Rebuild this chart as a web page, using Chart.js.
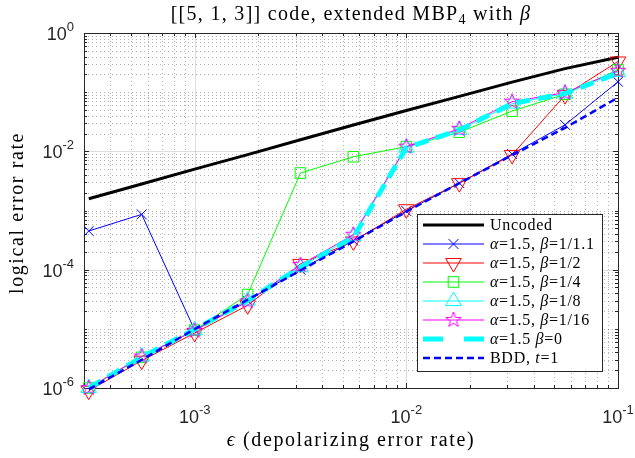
<!DOCTYPE html>
<html>
<head>
<meta charset="utf-8">
<script src="https://cdn.jsdelivr.net/npm/chart.js@4.4.0/dist/chart.umd.min.js"></script>
<style>
  html, body { margin: 0; padding: 0; background: #fff; }
</style>
</head>
<body>
<canvas id="miGrafico" width="635" height="458"></canvas>
<script>
// datos
let epsilon = [3.16e-4, 5.62e-4, 1e-3, 1.78e-3, 3.16e-3, 5.62e-3, 1e-2, 1.78e-2, 3.16e-2, 5.62e-2, 1e-1];
let uncoded = [1.58e-3, 2.8e-3, 5.0e-3, 8.8e-3, 0.0157, 0.0278, 0.049, 0.085, 0.148, 0.25, 0.39];
let beta11 = [4.5e-4, 8.6e-4, 9.5e-6, 3.0e-5, 1.0e-4, 3.1e-4, 9.8e-4, 2.9e-3, 9.0e-3, 0.028, 0.15];
let beta2 = [9e-7, 2.9e-6, 8.5e-6, 2.5e-5, 1.25e-4, 3.0e-4, 1.05e-3, 2.9e-3, 8.7e-3, 0.089, 0.33];
let beta4 = [1.0e-6, 3.3e-6, 9.5e-6, 3.8e-5, 4.3e-3, 8.1e-3, 0.012, 0.021, 0.048, 0.092, 0.24];
let beta8 = [1.0e-6, 3.4e-6, 9.5e-6, 3.0e-5, 1.1e-4, 3.7e-4, 0.0115, 0.023, 0.064, 0.095, 0.22];
let beta16 = [1.0e-6, 3.4e-6, 9.3e-6, 2.9e-5, 1.2e-4, 3.9e-4, 0.012, 0.024, 0.069, 0.098, 0.23];
let beta0 = [1.0e-6, 3.3e-6, 9.8e-6, 3.0e-5, 1.1e-4, 3.5e-4, 0.0115, 0.023, 0.064, 0.095, 0.21];
let bdd = [9.5e-7, 3.0e-6, 9.9e-6, 3.1e-5, 9.7e-5, 3.0e-4, 9.6e-4, 2.9e-3, 8.6e-3, 0.025, 0.081];

let xMin = 3e-4, xMax = 0.1;
let yMin = 1e-6, yMax = 1;
let xDecadasEtiqueta = [-3, -2, -1];
let yDecadasEtiqueta = [-6, -4, -2, 0];

let serif = '"Liberation Serif", serif';
let sans = '"Liberation Sans", Arial, sans-serif';

let puntos = (valores) => valores.map((v, i) => ({x: epsilon[i], y: v}));

// estrella de 5 puntas (pentagram de matlab)
let estrella = document.createElement('canvas');
estrella.width = 20;
estrella.height = 20;
let ce = estrella.getContext('2d');
ce.beginPath();
for (let i = 0; i < 10; i++) {
    let r = i % 2 == 0 ? 8 : 3.3;
    let a = -Math.PI / 2 + i * Math.PI / 5;
    ce.lineTo(10 + r * Math.cos(a), 10 + r * Math.sin(a));
}
ce.closePath();
ce.strokeStyle = '#ff00ff';
ce.lineWidth = 1;
ce.stroke();

let series = [
    {label: 'Uncoded', data: uncoded, color: '#000000', width: 3, marker: false, dash: [], order: 8},
    {label: 'b11', data: beta11, color: '#0000ff', width: 1, marker: 'crossRot', radius: 7, order: 7},
    {label: 'b2', data: beta2, color: '#ff0000', width: 1, marker: 'triangle', radius: 9, rot: 180, order: 6},
    {label: 'b4', data: beta4, color: '#00ff00', width: 1, marker: 'rect', radius: 7.5, order: 5},
    {label: 'b8', data: beta8, color: '#00ffff', width: 1, marker: 'triangle', radius: 9, order: 4},
    {label: 'b16', data: beta16, color: '#ff00ff', width: 1, marker: estrella, radius: 8, order: 3},
    {label: 'b0', data: beta0, color: '#00ffff', width: 5, marker: false, dash: [14, 8], order: 2},
    {label: 'BDD', data: bdd, color: '#0000ff', width: 2.5, marker: false, dash: [7, 4], order: 1}
];

let N = 'normal ', I = 'italic ';
let leyenda = [
    [['Uncoded', N]],
    [['α', I], ['=1.5, ', N], ['β', I], ['=1/1.1', N]],
    [['α', I], ['=1.5, ', N], ['β', I], ['=1/2', N]],
    [['α', I], ['=1.5, ', N], ['β', I], ['=1/4', N]],
    [['α', I], ['=1.5, ', N], ['β', I], ['=1/8', N]],
    [['α', I], ['=1.5, ', N], ['β', I], ['=1/16', N]],
    [['α', I], ['=1.5 ', N], ['β', I], ['=0', N]],
    [['BDD, ', N], ['t', I], ['=1', N]]
];

// dibuja texto con partes en distinta fuente
let dibujarTexto = (ctx, partes, x, y, align, size, espacio) => {
    ctx.textAlign = 'left';
    ctx.letterSpacing = (espacio || 0) + 'px';
    let total = 0;
    partes.forEach(p => {
        ctx.font = p[1] + (p[2] || size) + 'px ' + serif;
        total += ctx.measureText(p[0]).width;
    });
    let cx = align == 'center' ? x - total / 2 : (align == 'right' ? x - total : x);
    partes.forEach(p => {
        ctx.font = p[1] + (p[2] || size) + 'px ' + serif;
        ctx.fillText(p[0], cx, y + (p[3] || 0));
        cx += ctx.measureText(p[0]).width;
    });
    ctx.letterSpacing = '0px';
};

let potencia = (ctx, exp, x, y, align) => {
    ctx.textAlign = 'left';
    ctx.font = '18px ' + sans;
    let wb = ctx.measureText('10').width;
    ctx.font = '13px ' + sans;
    let we = ctx.measureText(String(exp)).width;
    let x0 = align == 'center' ? x - (wb + we) / 2 : x - wb - we;
    ctx.font = '18px ' + sans;
    ctx.fillText('10', x0, y);
    ctx.font = '13px ' + sans;
    ctx.fillText(String(exp), x0 + wb, y - 9);
};

let dibujarMarcador = (ctx, s, x, y) => {
    if (!s.marker) return;
    ctx.save();
    ctx.strokeStyle = s.color;
    ctx.lineWidth = 1;
    ctx.setLineDash([]);
    let r = s.radius;
    ctx.beginPath();
    if (s.marker === 'crossRot') {
        let d = r * Math.SQRT1_2;
        ctx.moveTo(x - d, y - d); ctx.lineTo(x + d, y + d);
        ctx.moveTo(x - d, y + d); ctx.lineTo(x + d, y - d);
    } else if (s.marker === 'triangle') {
        let sg = s.rot ? -1 : 1;
        ctx.moveTo(x, y - sg * r);
        ctx.lineTo(x + r * 0.866, y + sg * r / 2);
        ctx.lineTo(x - r * 0.866, y + sg * r / 2);
        ctx.closePath();
    } else if (s.marker === 'rect') {
        let d = r * Math.SQRT1_2;
        ctx.rect(x - d, y - d, 2 * d, 2 * d);
    } else {
        ctx.drawImage(s.marker, x - 10, y - 10);
    }
    ctx.stroke();
    ctx.restore();
};

// marcas 1..9 por decada; mayores solo en las decadas etiquetadas
let decadas = (min, max, etiquetas) => {
    let lista = [];
    for (let e = Math.floor(Math.log10(min)); e <= Math.ceil(Math.log10(max)); e++) {
        for (let m = 1; m <= 9; m++) {
            let v = m * Math.pow(10, e);
            if (v >= min * 0.999 && v <= max * 1.001) lista.push({v: v, mayor: m == 1 && etiquetas.includes(e), e: e});
        }
    }
    return lista;
};

let marco = {
    id: 'marco',
    beforeDatasetsDraw(chart) {
        let ctx = chart.ctx, a = chart.chartArea;
        let sx = chart.scales.x, sy = chart.scales.y;
        let tx = decadas(xMin, xMax, xDecadasEtiqueta), ty = decadas(yMin, yMax, yDecadasEtiqueta);
        ctx.save();
        // rejilla
        tx.forEach(t => {
            let px = Math.round(sx.getPixelForValue(t.v)) + 0.5;
            ctx.beginPath();
            ctx.strokeStyle = t.mayor ? 'rgba(0,0,0,0.13)' : 'rgba(0,0,0,0.3)';
            ctx.setLineDash(t.mayor ? [] : [1, 3]);
            ctx.lineWidth = 1;
            ctx.moveTo(px, a.top); ctx.lineTo(px, a.bottom);
            ctx.stroke();
        });
        ty.forEach(t => {
            let py = Math.round(sy.getPixelForValue(t.v)) + 0.5;
            ctx.beginPath();
            ctx.strokeStyle = t.mayor ? 'rgba(0,0,0,0.13)' : 'rgba(0,0,0,0.3)';
            ctx.setLineDash(t.mayor ? [] : [1, 3]);
            ctx.moveTo(a.left, py); ctx.lineTo(a.right, py);
            ctx.stroke();
        });
        ctx.setLineDash([]);
        // caja y marcas
        ctx.strokeStyle = '#262626';
        ctx.lineWidth = 1;
        ctx.strokeRect(Math.round(a.left) + 0.5, Math.round(a.top) + 0.5, Math.round(a.right - a.left), Math.round(a.bottom - a.top));
        ctx.beginPath();
        tx.forEach(t => {
            let px = Math.round(sx.getPixelForValue(t.v)) + 0.5;
            let l = t.mayor ? 5 : 3;
            ctx.moveTo(px, a.bottom); ctx.lineTo(px, a.bottom - l);
            ctx.moveTo(px, a.top); ctx.lineTo(px, a.top + l);
        });
        ty.forEach(t => {
            let py = Math.round(sy.getPixelForValue(t.v)) + 0.5;
            let l = t.mayor ? 5 : 3;
            ctx.moveTo(a.left, py); ctx.lineTo(a.left + l, py);
            ctx.moveTo(a.right, py); ctx.lineTo(a.right - l, py);
        });
        ctx.stroke();
        ctx.restore();
    },
    afterDatasetsDraw(chart) {
        let ctx = chart.ctx, a = chart.chartArea;
        let sx = chart.scales.x, sy = chart.scales.y;
        ctx.save();
        ctx.fillStyle = '#262626';
        // etiquetas de los ejes
        xDecadasEtiqueta.forEach(e => {
            potencia(ctx, e, sx.getPixelForValue(Math.pow(10, e)), a.bottom + 35, 'center');
        });
        yDecadasEtiqueta.forEach(e => {
            potencia(ctx, e, a.left - 10, sy.getPixelForValue(Math.pow(10, e)) + 7, 'right');
        });
        ctx.fillStyle = '#000';
        // titulo
        dibujarTexto(ctx, [['[[5, 1, 3]] code, extended MBP', N], ['4', N, 14, 4], [' with ', N], ['β', I]], (a.left + a.right) / 2, 20, 'center', 20, 1.3);
        // eje x
        dibujarTexto(ctx, [['ϵ', I], [' (depolarizing error rate)', N]], (a.left + a.right) / 2, 446, 'center', 20, 1.6);
        // eje y
        ctx.translate(23, 213);
        ctx.rotate(-Math.PI / 2);
        dibujarTexto(ctx, [['logical error rate', N]], 0, 0, 'center', 20, 1.6);
        ctx.restore();

        // leyenda
        ctx.save();
        let lx = 417, ly = 214, lw = 185, lh = 157;
        ctx.fillStyle = '#fff';
        ctx.fillRect(lx, ly, lw, lh);
        ctx.strokeStyle = '#262626';
        ctx.lineWidth = 1;
        ctx.strokeRect(lx + 0.5, ly + 0.5, lw, lh);
        series.forEach((s, i) => {
            let y = ly + 11 + i * 19;
            ctx.beginPath();
            ctx.strokeStyle = s.color;
            ctx.lineWidth = s.width;
            if (s.label == 'b0') ctx.setLineDash([20, 21]);
            else ctx.setLineDash(s.dash || []);
            ctx.moveTo(423, y); ctx.lineTo(484, y);
            ctx.stroke();
            ctx.setLineDash([]);
            dibujarMarcador(ctx, s, 453.5, y);
            ctx.fillStyle = '#000';
            dibujarTexto(ctx, leyenda[i], 490, y + 5, 'left', 16, 0.7);
        });
        ctx.restore();
    }
};

let ctx = document.getElementById('miGrafico').getContext('2d');
let myChart = new Chart(ctx, {
    type: 'line',
    data: {
        datasets: series.map(s => ({
            label: s.label,
            data: puntos(s.data),
            borderColor: s.color,
            borderWidth: s.width,
            borderDash: s.dash || [],
            pointStyle: s.marker || 'circle',
            pointRadius: s.marker ? s.radius : 0,
            pointHoverRadius: s.marker ? s.radius : 0,
            pointRotation: s.rot || 0,
            pointBorderColor: s.color,
            pointBackgroundColor: 'transparent',
            pointBorderWidth: 1,
            fill: false,
            tension: 0,
            clip: false,
            order: s.order
        }))
    },
    options: {
        responsive: false,
        animation: false,
        devicePixelRatio: 1,
        layout: {padding: {top: 33, right: 17, left: 0, bottom: 0}},
        plugins: {
            legend: {display: false},
            title: {display: false},
            tooltip: {enabled: false}
        },
        scales: {
            x: {
                type: 'logarithmic',
                min: xMin,
                max: xMax,
                grid: {display: false},
                border: {display: false},
                ticks: {display: false},
                afterFit: (scale) => { scale.height = 70; }
            },
            y: {
                type: 'logarithmic',
                min: yMin,
                max: yMax,
                grid: {display: false},
                border: {display: false},
                ticks: {display: false},
                afterFit: (scale) => { scale.width = 84; }
            }
        }
    },
    plugins: [marco]
});
</script>
</body>
</html>
